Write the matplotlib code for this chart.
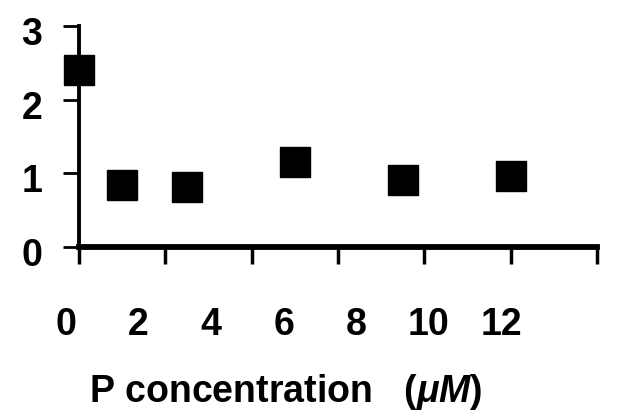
import matplotlib
matplotlib.use('Agg')
import matplotlib.pyplot as plt
import matplotlib.transforms as mtransforms

plt.rcParams['font.family'] = ['Liberation Sans', 'DejaVu Sans']
plt.rcParams['font.weight'] = 'bold'
plt.rcParams['mathtext.fontset'] = 'custom'
plt.rcParams['mathtext.rm'] = 'Liberation Sans:bold'
plt.rcParams['mathtext.it'] = 'Liberation Sans:italic:bold'

# data
p_conc = [0, 1, 2.5, 5, 7.5, 10]
response = [2.41, 0.85, 0.82, 1.16, 0.91, 0.96]
x_ticks = [0, 2, 4, 6, 8, 10, 12]
y_ticks = [0, 1, 2, 3]

fig = plt.figure(figsize=(6.22, 4.16), dpi=100)
ax = fig.add_axes([0.127, 0.406, 0.833, 0.531])

ax.plot(p_conc, response, 's', color='black', markersize=21, clip_on=False)

ax.set_xlim(0, 12)
ax.set_ylim(0, 3)
for side in ['top', 'right']:
    ax.spines[side].set_visible(False)
ax.spines['bottom'].set_linewidth(4.2)
ax.spines['left'].set_linewidth(2.8)

ax.set_yticks(y_ticks)
ax.set_yticklabels([str(v) for v in y_ticks])
ax.tick_params(axis='y', length=11.5, width=2, pad=15, labelsize=27)
# y labels sit a few pixels below their ticks in the scan
shift = mtransforms.ScaledTranslation(0, -0.05, fig.dpi_scale_trans)
for lab in ax.get_yticklabels():
    lab.set_transform(lab.get_transform() + shift)

ax.set_xticks(x_ticks)
ax.set_xticklabels([])
ax.tick_params(axis='x', length=12, width=2.5)

# in the scan the x labels sit on a slightly narrower scale than the ticks
for v in x_ticks:
    ax.text(v * 0.84 - 0.3, -0.272, str(v), transform=ax.get_xaxis_transform(),
            ha='center', va='top', fontsize=27, fontweight='bold')

fig.text(0.46, 0.058, r'P concentration   ($\mathit{μM}$)', ha='center',
         va='center', fontsize=27, fontweight='bold')

fig.savefig('out.png', dpi=100)
